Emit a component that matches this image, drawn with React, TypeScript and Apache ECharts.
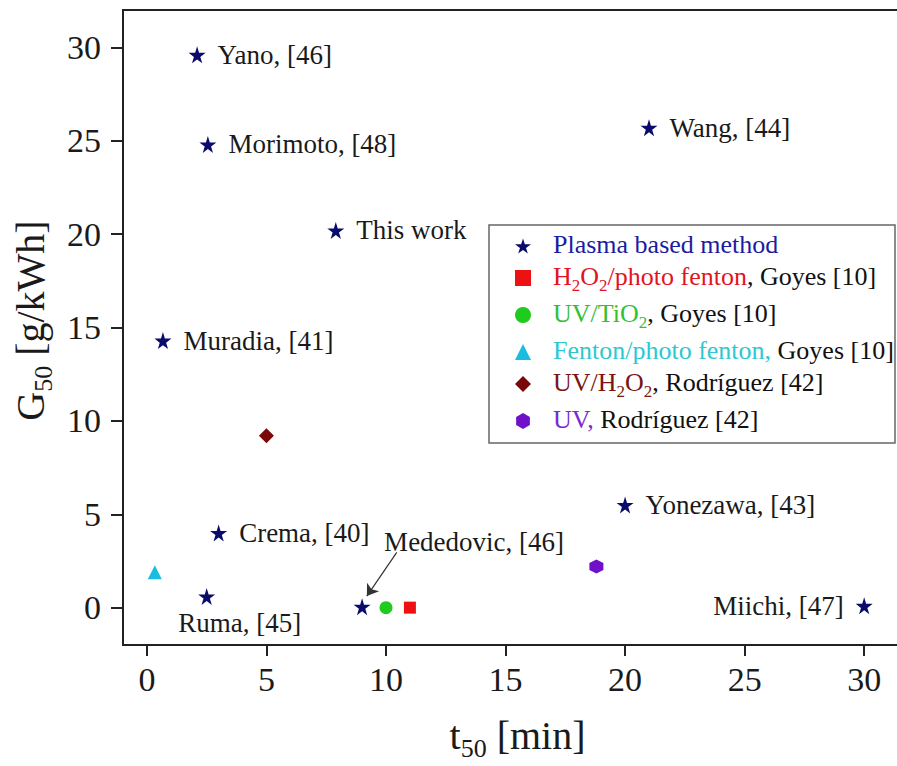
import React, { useEffect, useRef } from 'react';
import * as echarts from 'echarts';

const xTicks = [0, 5, 10, 15, 20, 25, 30];
const yTicks = [0, 5, 10, 15, 20, 25, 30];

const plasmaNames = ['Yano, [46]', 'Morimoto, [48]', 'This work', 'Muradia, [41]', 'Wang, [44]', 'Crema, [40]', 'Ruma, [45]', 'Mededovic, [46]', 'Yonezawa, [43]', 'Miichi, [47]'];
const plasmaT50 = [2.1, 2.55, 7.9, 0.67, 21.0, 3.0, 2.5, 9.0, 20.0, 30.0];
const plasmaG50 = [29.6, 24.8, 20.2, 14.3, 25.7, 4.0, 0.6, 0.05, 5.5, 0.1];
const plasmaLabelSide = ['right', 'right', 'right', 'right', 'right', 'right', 'below', 'above', 'right', 'left'];

const h2o2PhotoFenton = [[11.0, 0.0]];
const uvTiO2 = [[10.0, 0.0]];
const fentonPhotoFenton = [[0.33, 1.9]];
const uvH2O2 = [[5.0, 9.2]];
const uvOnly = [[18.8, 2.2]];

const arrowFrom = [10.45, 2.96];
const arrowTo = [9.2, 0.62];

const SERIF = "'Liberation Serif', 'Times New Roman', serif";
const STAR = 'path://M50,0 L61,35 L98,35 L68,57 L79,91 L50,70 L21,91 L32,57 L2,35 L39,35 Z';
const HEX = 'path://M50,0 L93,25 L93,75 L50,100 L7,75 L7,25 Z';
const TXT = '#1a1a1a';

function labelFor(side: string) {
  if (side === 'left') return { position: 'left', distance: 12 };
  if (side === 'below') return { position: 'inside', offset: [33, 27] };
  if (side === 'above') return { position: 'inside', offset: [112, -65] };
  return { position: 'right', distance: 12 };
}

const legendMain = (color: string) => ({ fontSize: 26, lineHeight: 30, verticalAlign: 'top', color, fontFamily: SERIF, fontStyle: 'normal', fontWeight: 'normal' });
const legendSub = (color: string) => ({ fontSize: 17, lineHeight: 17, padding: [14, 0, 0, 0], verticalAlign: 'top', color, fontFamily: SERIF, fontStyle: 'normal', fontWeight: 'normal' });

const legendText: Record<string, string> = {
  'Plasma based method': '{bl|Plasma based method}',
  'H2O2/photo fenton, Goyes [10]': '{rd|H}{rds|2}{rd|O}{rds|2}{rd|/photo fenton}{ink|, Goyes [10]}',
  'UV/TiO2, Goyes [10]': '{gr|UV/TiO}{grs|2}{ink|, Goyes [10]}',
  'Fenton/photo fenton, Goyes [10]': '{cy|Fenton/photo fenton,}{ink| Goyes [10]}',
  'UV/H2O2, Rodríguez [42]': '{dr|UV/H}{drs|2}{dr|O}{drs|2}{ink|, Rodríguez [42]}',
  'UV, Rodríguez [42]': '{pu|UV,}{ink| Rodríguez [42]}',
};

export default function App() {
  const ref = useRef<HTMLDivElement>(null);
  useEffect(() => {
    if (!ref.current) return;
    const chart = echarts.init(ref.current, undefined, { renderer: 'svg' });
    const titleRich = {
      m: { fontSize: 40, lineHeight: 40, verticalAlign: 'top', color: TXT, fontFamily: SERIF },
      s: { fontSize: 26, lineHeight: 26, padding: [20, 0, 0, 0], verticalAlign: 'top', color: TXT, fontFamily: SERIF },
    };
    chart.setOption({
      animation: false,
      backgroundColor: '#ffffff',
      textStyle: { fontFamily: SERIF },
      grid: { left: 123, top: 10, right: 0, bottom: 120, show: true, borderColor: '#222', borderWidth: 2, backgroundColor: 'transparent' },
      graphic: [
        { type: 'rect', shape: { x: 489, y: 225, width: 406, height: 218 }, style: { fill: 'none', stroke: '#666', lineWidth: 1.5 }, z: 10 },
      ],
      legend: {
        orient: 'vertical',
        left: 515,
        top: 231,
        itemWidth: 16,
        itemHeight: 16,
        itemGap: 6,
        padding: 0,
        selectedMode: false,
        formatter: (name: string) => legendText[name] || name,
        textStyle: {
          fontFamily: SERIF,
          fontSize: 26,
          color: '#111111',
          padding: [0, 0, 0, 17],
          rich: {
            ink: legendMain('#111111'),
            bl: legendMain('#1c1ca0'),
            rd: legendMain('#e3141e'),
            rds: legendSub('#e3141e'),
            gr: legendMain('#33c033'),
            grs: legendSub('#33c033'),
            cy: legendMain('#2cc8d2'),
            dr: legendMain('#7b1515'),
            drs: legendSub('#7b1515'),
            pu: legendMain('#7a2ad0'),
          },
        },
      },
      xAxis: {
        type: 'value',
        min: -1,
        max: 32,
        name: '{m|t}{s|50}{m| [min]}',
        nameLocation: 'middle',
        nameGap: 70,
        nameTextStyle: { rich: titleRich },
        axisLine: { show: true, onZero: false, lineStyle: { color: '#222', width: 2 } },
        axisTick: { show: true, customValues: xTicks, length: 11, lineStyle: { color: '#222', width: 2 } },
        axisLabel: { customValues: xTicks, fontSize: 34, margin: 17, color: TXT, fontFamily: SERIF },
        splitLine: { show: false },
      },
      yAxis: {
        type: 'value',
        min: -2,
        max: 32,
        name: '{m|G}{s|50}{m| [g/kWh]}',
        nameLocation: 'middle',
        nameRotate: 90,
        nameGap: 66,
        nameTextStyle: { rich: titleRich, padding: [0, 0, 0, 14] },
        axisLine: { show: true, onZero: false, lineStyle: { color: '#222', width: 2 } },
        axisTick: { show: true, customValues: yTicks, length: 12, lineStyle: { color: '#222', width: 2 } },
        axisLabel: { customValues: yTicks, fontSize: 34, margin: 22, color: TXT, fontFamily: SERIF },
        splitLine: { show: false },
      },
      series: [
        {
          name: 'Plasma based method',
          type: 'scatter',
          symbol: STAR,
          symbolSize: 17,
          itemStyle: { color: '#0b0b6b', opacity: 1 },
          emphasis: { disabled: true },
          label: { show: true, formatter: '{b}', fontSize: 27, fontFamily: SERIF, color: TXT },
          data: plasmaT50.map((x, i) => ({ value: [x, plasmaG50[i]], name: plasmaNames[i], label: labelFor(plasmaLabelSide[i]) })),
          markLine: {
            silent: true,
            symbol: ['none', 'arrow'],
            symbolSize: 11,
            label: { show: false },
            lineStyle: { color: '#333', width: 1.2, type: 'solid' },
            data: [[{ coord: arrowFrom }, { coord: arrowTo }]],
          },
        },
        { name: 'H2O2/photo fenton, Goyes [10]', type: 'scatter', symbol: 'rect', symbolSize: 12, itemStyle: { color: '#ee1111', opacity: 1 }, data: h2o2PhotoFenton },
        { name: 'UV/TiO2, Goyes [10]', type: 'scatter', symbol: 'circle', symbolSize: 13, itemStyle: { color: '#1ecb1e', opacity: 1 }, data: uvTiO2 },
        { name: 'Fenton/photo fenton, Goyes [10]', type: 'scatter', symbol: 'triangle', symbolSize: 14, itemStyle: { color: '#19bde0', opacity: 1 }, data: fentonPhotoFenton },
        { name: 'UV/H2O2, Rodríguez [42]', type: 'scatter', symbol: 'diamond', symbolSize: 15, itemStyle: { color: '#7a0808', opacity: 1 }, data: uvH2O2 },
        { name: 'UV, Rodríguez [42]', type: 'scatter', symbol: HEX, symbolSize: 14, itemStyle: { color: '#7010c8', opacity: 1 }, data: uvOnly },
      ],
    });
    return () => chart.dispose();
  }, []);
  return (
    <div style={{ position: 'absolute', left: 0, top: 0, width: 897, height: 766, overflow: 'hidden' }}>
      <div ref={ref} style={{ width: 912, height: 766 }} />
    </div>
  );
}
